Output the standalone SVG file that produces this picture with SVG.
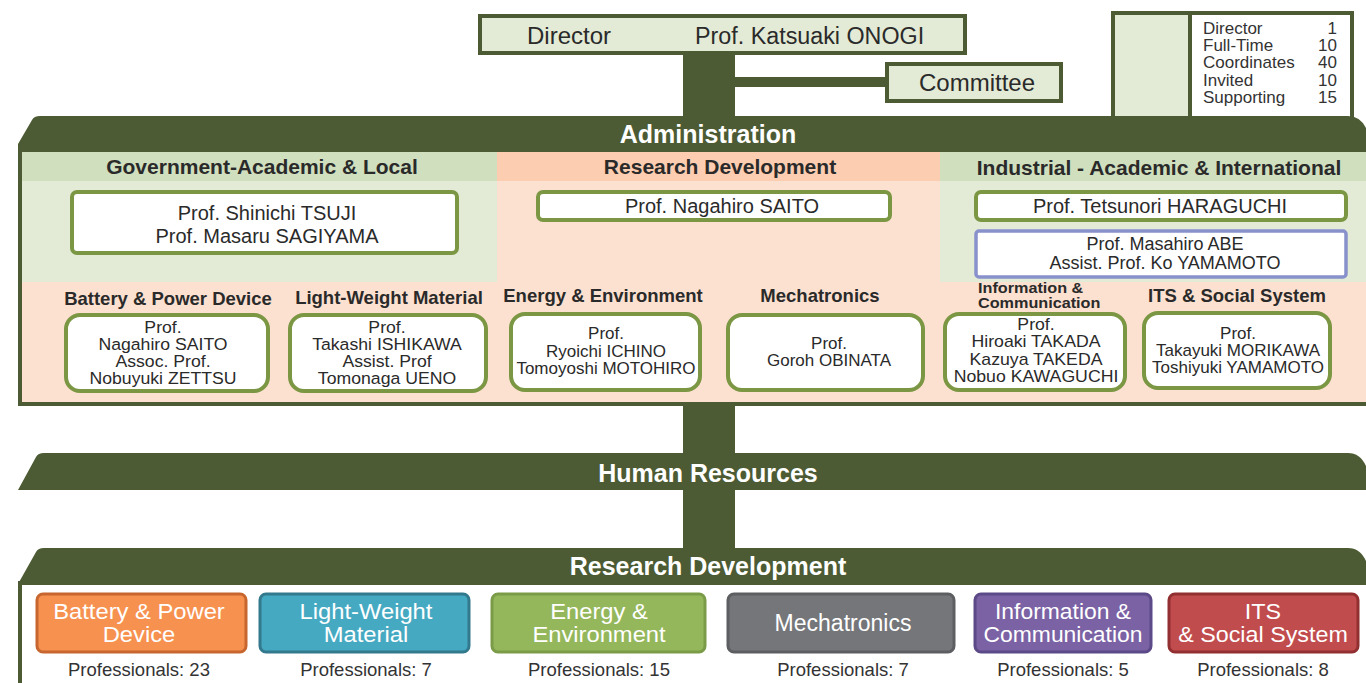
<svg xmlns="http://www.w3.org/2000/svg" width="1366" height="683" viewBox="0 0 1366 683">
<style>
text{font-family:"Liberation Sans",Arial,sans-serif;fill:#2a2a2a}
.nm{font-size:20px;text-anchor:middle}
.sm{font-size:18px;text-anchor:middle}
.s16{font-size:16.5px;text-anchor:middle}
.s17{font-size:17px;text-anchor:middle}
.hd{font-size:21px;font-weight:bold;text-anchor:middle}
.lb{font-size:18.5px;font-weight:bold;text-anchor:middle}
.bn{font-size:25px;font-weight:bold;text-anchor:middle;fill:#fff}
.bt{font-size:22px;text-anchor:middle;fill:#fff}
.pr{font-size:18.5px;text-anchor:middle;fill:#333}
.lg{font-size:17px;fill:#333}
.dk{fill:#4c5b33}
.pbox{fill:#fff;stroke:#7b9743;stroke-width:4}
.gbox{fill:#e3ead6;stroke:#4c5b33;stroke-width:4}
</style>

<g id="connectors">
  <rect class="dk" x="683" y="50" width="52" height="505"/>
  <rect class="dk" x="733" y="77" width="156" height="10"/>
</g>

<g id="director">
  <rect class="gbox" x="480" y="16" width="485" height="37"/>
  <text x="527" y="44" style="font-size:24px">Director</text>
  <text x="695" y="44" style="font-size:23.3px">Prof. Katsuaki ONOGI</text>
</g>

<g id="committee">
  <rect class="gbox" x="887" y="64" width="174" height="37"/>
  <text x="977" y="91" style="font-size:24px;text-anchor:middle">Committee</text>
</g>

<g id="legend">
  <rect class="gbox" x="1113" y="13" width="77" height="108"/>
  <rect x="1190" y="13" width="162" height="108" fill="#fff" stroke="#4c5b33" stroke-width="4"/>
  <text class="lg" x="1203" y="34">Director</text>
  <text class="lg" x="1203" y="51">Full-Time</text>
  <text class="lg" x="1203" y="68">Coordinates</text>
  <text class="lg" x="1203" y="86">Invited</text>
  <text class="lg" x="1203" y="103">Supporting</text>
  <text class="lg" x="1337" y="34" text-anchor="end">1</text>
  <text class="lg" x="1337" y="51" text-anchor="end">10</text>
  <text class="lg" x="1337" y="68" text-anchor="end">40</text>
  <text class="lg" x="1337" y="86" text-anchor="end">10</text>
  <text class="lg" x="1337" y="103" text-anchor="end">15</text>
</g>

<g id="administration">
  <rect x="20" y="150" width="1362" height="254" fill="#fde1d0"/>
  <rect x="22" y="152" width="475" height="29" fill="#d0dfbe"/>
  <rect x="22" y="181" width="475" height="101" fill="#e3ead6"/>
  <rect x="497" y="152" width="443" height="29" fill="#fccdb0"/>
  <rect x="940" y="152" width="440" height="29" fill="#d0dfbe"/>
  <rect x="940" y="181" width="440" height="101" fill="#e3ead6"/>
  <rect x="20" y="150" width="1362" height="254" fill="none" stroke="#4c5b33" stroke-width="4"/>
  <path class="dk" d="M18 152 L18 144 L32 120 Q34 116 40 116 L1348 116 Q1360 116 1366 128 L1372 152 Z"/>
  <text class="bn" x="708" y="143">Administration</text>
  <text class="hd" x="262" y="174">Government-Academic &amp; Local</text>
  <text class="hd" x="720" y="174">Research Development</text>
  <text class="hd" x="1159" y="175">Industrial - Academic &amp; International</text>
</g>

<g id="gov-academic">
  <rect class="pbox" x="72" y="192" width="385" height="61" rx="5"/>
  <text class="nm" x="267" y="220">Prof. Shinichi TSUJI</text>
  <text class="nm" x="267" y="243">Prof. Masaru SAGIYAMA</text>
</g>

<g id="research-dev-admin">
  <rect class="pbox" x="538" y="192" width="352" height="28" rx="5"/>
  <text class="nm" x="722" y="213">Prof. Nagahiro SAITO</text>
</g>

<g id="industrial-academic">
  <rect class="pbox" x="976" y="192" width="370" height="28" rx="5"/>
  <text class="nm" x="1160" y="213">Prof. Tetsunori HARAGUCHI</text>
</g>

<g id="international">
  <rect x="976" y="231" width="370" height="46" rx="3" fill="#fff" stroke="#8891cc" stroke-width="3.5"/>
  <text class="sm" x="1165" y="250">Prof. Masahiro ABE</text>
  <text class="sm" x="1165" y="269">Assist. Prof. Ko YAMAMOTO</text>
</g>

<g id="battery-admin">
  <text class="lb" x="168" y="305">Battery &amp; Power Device</text>
  <rect class="pbox" x="66" y="315" width="202" height="76" rx="14"/>
  <g transform="translate(163 0) scale(1.07 1)">
    <text class="s16" x="0" y="333.5">Prof.</text>
    <text class="s16" x="0" y="350.5">Nagahiro SAITO</text>
    <text class="s16" x="0" y="367.5">Assoc. Prof.</text>
    <text class="s16" x="0" y="384.5">Nobuyuki ZETTSU</text>
  </g>
</g>

<g id="lightweight-admin">
  <text class="lb" x="389" y="304">Light-Weight Material</text>
  <rect class="pbox" x="290" y="315" width="196" height="76" rx="14"/>
  <g transform="translate(387 0) scale(1.07 1)">
    <text class="s16" x="0" y="333.5">Prof.</text>
    <text class="s16" x="0" y="350.5">Takashi ISHIKAWA</text>
    <text class="s16" x="0" y="367.5">Assist. Prof</text>
    <text class="s16" x="0" y="384.5">Tomonaga UENO</text>
  </g>
</g>

<g id="energy-admin">
  <text class="lb" x="603" y="302">Energy &amp; Environment</text>
  <rect class="pbox" x="511" y="314" width="189" height="76" rx="14"/>
  <text class="s17" x="606" y="339">Prof.</text>
  <text class="s17" x="606" y="356.5">Ryoichi ICHINO</text>
  <text class="s17" x="606" y="374">Tomoyoshi MOTOHIRO</text>
</g>

<g id="mechatronics-admin">
  <text class="lb" x="820" y="302">Mechatronics</text>
  <rect class="pbox" x="728" y="315" width="195" height="75" rx="14"/>
  <text class="s17" x="829" y="349">Prof.</text>
  <text class="s17" x="829" y="366">Goroh OBINATA</text>
</g>

<g id="info-admin">
  <g transform="translate(978 0) scale(1.08 1)">
    <text x="0" y="293" style="font-size:15px;font-weight:bold">Information &amp;</text>
    <text x="0" y="308" style="font-size:15px;font-weight:bold">Communication</text>
  </g>
  <rect class="pbox" x="945" y="314" width="180" height="76" rx="14"/>
  <g transform="translate(1036 0) scale(1.04 1)">
    <text class="s17" x="0" y="330">Prof.</text>
    <text class="s17" x="0" y="347.3">Hiroaki TAKADA</text>
    <text class="s17" x="0" y="364.6">Kazuya TAKEDA</text>
    <text class="s17" x="0" y="382">Nobuo KAWAGUCHI</text>
  </g>
</g>

<g id="its-admin">
  <text class="lb" x="1237" y="302">ITS &amp; Social System</text>
  <rect class="pbox" x="1144" y="313" width="186" height="75" rx="14"/>
  <text class="s17" x="1238" y="339">Prof.</text>
  <text class="s17" x="1238" y="356">Takayuki MORIKAWA</text>
  <text class="s17" x="1238" y="373">Toshiyuki YAMAMOTO</text>
</g>

<g id="human-resources">
  <path class="dk" d="M18 490 L36 457 Q38 453 44 453 L1348 453 Q1360 453 1366 466 L1372 490 Z"/>
  <text class="bn" x="708" y="482">Human Resources</text>
</g>

<g id="research-development">
  <rect x="20" y="583" width="1362" height="120" fill="#fff" stroke="#4c5b33" stroke-width="4"/>
  <path class="dk" d="M18 584 L36 552 Q38 548 44 548 L1348 548 Q1360 548 1366 561 L1372 584 Z"/>
  <text class="bn" x="708" y="575">Research Development</text>
</g>

<g id="rd-battery">
  <rect x="37" y="594" width="209" height="58" rx="6" fill="#f69150" stroke="#c7672f" stroke-width="3"/>
  <g transform="translate(139 0) scale(1.08 1)">
    <text class="bt" x="0" y="619">Battery &amp; Power</text>
    <text class="bt" x="0" y="642">Device</text>
  </g>
  <text class="pr" x="139" y="676">Professionals: 23</text>
</g>

<g id="rd-lightweight">
  <rect x="260" y="594" width="209" height="58" rx="6" fill="#46a9c2" stroke="#32798e" stroke-width="3"/>
  <g transform="translate(366 0) scale(1.08 1)">
    <text class="bt" x="0" y="619">Light-Weight</text>
    <text class="bt" x="0" y="642">Material</text>
  </g>
  <text class="pr" x="366" y="676">Professionals: 7</text>
</g>

<g id="rd-energy">
  <rect x="492" y="594" width="213" height="58" rx="6" fill="#94b75b" stroke="#7a9b47" stroke-width="3"/>
  <g transform="translate(599 0) scale(1.08 1)">
    <text class="bt" x="0" y="619">Energy &amp;</text>
    <text class="bt" x="0" y="642">Environment</text>
  </g>
  <text class="pr" x="599" y="676">Professionals: 15</text>
</g>

<g id="rd-mechatronics">
  <rect x="728" y="594" width="226" height="58" rx="6" fill="#757679" stroke="#5d5e61" stroke-width="3"/>
  <text class="bt" x="843" y="631" style="font-size:23px">Mechatronics</text>
  <text class="pr" x="843" y="676">Professionals: 7</text>
</g>

<g id="rd-info">
  <rect x="975" y="594" width="176" height="58" rx="6" fill="#7b62a4" stroke="#5b4a87" stroke-width="3"/>
  <g transform="translate(1063 0) scale(1.04 1)">
    <text class="bt" x="0" y="619">Information &amp;</text>
    <text class="bt" x="0" y="642">Communication</text>
  </g>
  <text class="pr" x="1063" y="676">Professionals: 5</text>
</g>

<g id="rd-its">
  <rect x="1169" y="594" width="189" height="58" rx="6" fill="#c14c4e" stroke="#922f31" stroke-width="3"/>
  <g transform="translate(1263 0) scale(1.06 1)">
    <text class="bt" x="0" y="619">ITS</text>
    <text class="bt" x="0" y="642">&amp; Social System</text>
  </g>
  <text class="pr" x="1263" y="676">Professionals: 8</text>
</g>
</svg>
